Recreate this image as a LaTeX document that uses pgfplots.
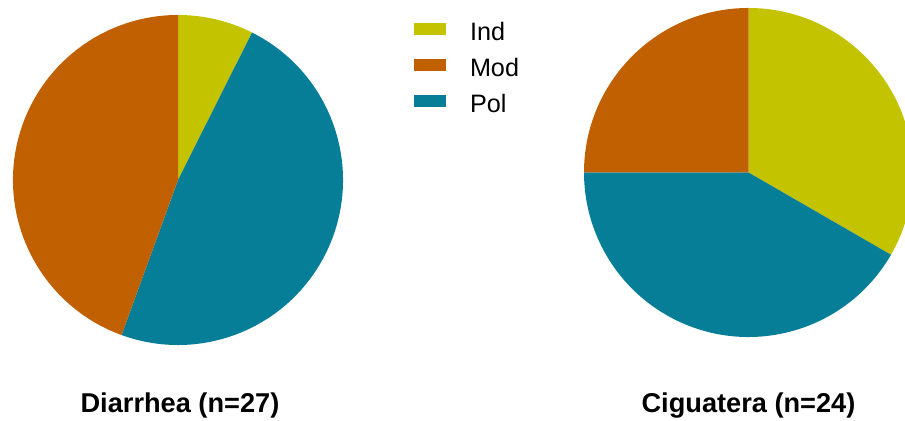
\documentclass[border=0pt]{standalone}
\usepackage{pgfplots}
\pgfplotsset{compat=1.18}
\usepackage{pgfplotstable}
\usepackage{fontspec}
\setmainfont{Liberation Sans}
\definecolor{indc}{HTML}{C3C300}
\definecolor{modc}{HTML}{C06000}
\definecolor{polc}{HTML}{077E97}

% counts, listed clockwise from 12 o'clock
\pgfplotstableread{
cat diar cig
Ind 2 8
Pol 13 10
Mod 12 6
}\piedata

\begin{document}
\begin{tikzpicture}
% angles of the slices (clockwise from the top)
\pgfplotstablegetelem{0}{diar}\of\piedata \let\dA\pgfplotsretval
\pgfplotstablegetelem{1}{diar}\of\piedata \let\dB\pgfplotsretval
\pgfplotstablegetelem{2}{diar}\of\piedata \let\dC\pgfplotsretval
\pgfplotstablegetelem{0}{cig}\of\piedata \let\cA\pgfplotsretval
\pgfplotstablegetelem{1}{cig}\of\piedata \let\cB\pgfplotsretval
\pgfplotstablegetelem{2}{cig}\of\piedata \let\cC\pgfplotsretval
\pgfmathsetmacro\dT{\dA+\dB+\dC}
\pgfmathsetmacro\dOne{90-360*\dA/\dT}
\pgfmathsetmacro\dTwo{\dOne-360*\dB/\dT}
\pgfmathsetmacro\cT{\cA+\cB+\cC}
\pgfmathsetmacro\cOne{90-360*\cA/\cT}
\pgfmathsetmacro\cTwo{\cOne-360*\cB/\cT}
\begin{axis}[name=ax,
  scale only axis, x=0.5pt, y=0.5pt,
  xmin=0, xmax=905, ymin=0, ymax=421,
  axis lines=none, clip=true,
  legend image code/.code={\fill[#1,draw=none] (0pt,-1.75pt) rectangle (16pt,4.25pt);},
  legend cell align=left,
  legend style={draw=none, fill=none, anchor=north west,
    at={(axis cs:414,398)}, inner sep=0pt, outer sep=0pt,
    font=\fontsize{12.6}{15}\selectfont,
    row sep=9pt, column sep=0pt,
    nodes={inner xsep=0pt, inner ysep=0pt, text height=9pt, text depth=0pt},
    /tikz/every odd column/.append style={column sep=12pt}},
]
% Diarrhea
\fill[indc] (axis cs:178,241) -- (axis cs:{178+165*cos(90)},{241+165*sin(90)}) arc[start angle=90, end angle=\dOne, radius=165] -- cycle;
\fill[polc] (axis cs:178,241) -- (axis cs:{178+165*cos(\dOne)},{241+165*sin(\dOne)}) arc[start angle=\dOne, end angle=\dTwo, radius=165] -- cycle;
\fill[modc] (axis cs:178,241) -- (axis cs:{178+165*cos(\dTwo)},{241+165*sin(\dTwo)}) arc[start angle=\dTwo, end angle=-270, radius=165] -- cycle;
% Ciguatera
\fill[indc] (axis cs:748.5,248.5) -- (axis cs:{748.5+164.5*cos(90)},{248.5+164.5*sin(90)}) arc[start angle=90, end angle=\cOne, radius=164.5] -- cycle;
\fill[polc] (axis cs:748.5,248.5) -- (axis cs:{748.5+164.5*cos(\cOne)},{248.5+164.5*sin(\cOne)}) arc[start angle=\cOne, end angle=\cTwo, radius=164.5] -- cycle;
\fill[modc] (axis cs:748.5,248.5) -- (axis cs:{748.5+164.5*cos(\cTwo)},{248.5+164.5*sin(\cTwo)}) arc[start angle=\cTwo, end angle=-270, radius=164.5] -- cycle;
\addlegendimage{fill=indc,draw=none}
\addlegendentry{Ind}
\addlegendimage{fill=modc,draw=none}
\addlegendentry{Mod}
\addlegendimage{fill=polc,draw=none}
\addlegendentry{Pol}
\node[anchor=base, font=\fontsize{13.6}{16}\selectfont\bfseries] at (axis cs:180,8) {Diarrhea (n=27)};
\node[anchor=base, font=\fontsize{13.6}{16}\selectfont\bfseries] at (axis cs:748.5,8) {Ciguatera (n=24)};
\end{axis}
\pgfresetboundingbox
\path (ax.south west) rectangle (ax.north east);
\end{tikzpicture}
\end{document}
